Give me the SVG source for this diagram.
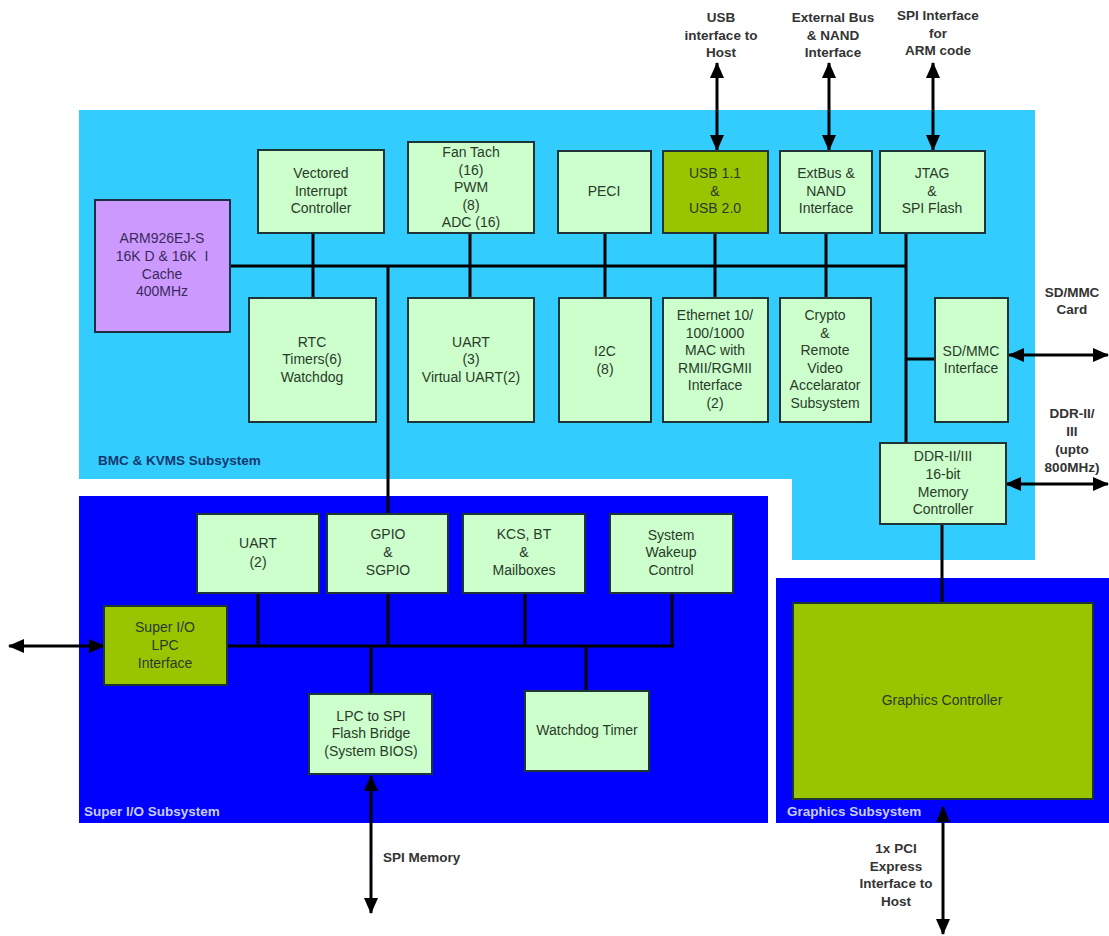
<svg xmlns="http://www.w3.org/2000/svg" width="1109" height="936" viewBox="0 0 1109 936">
<defs>
<marker id="ah" viewBox="0 0 16 14" markerWidth="16" markerHeight="14" refX="15" refY="7" orient="auto-start-reverse" markerUnits="userSpaceOnUse">
<path d="M0,0 L16,7 L0,14 z" fill="#000"/>
</marker>
<style>
.box{fill:#ccffcc;stroke:#1d3535;stroke-width:2}
.lime{fill:#99c400;stroke:#1d3535;stroke-width:2}
.arm{fill:#cc99ff;stroke:#1d2f45;stroke-width:2}
.t{font-family:"Liberation Sans",Arial,sans-serif;font-size:14px;fill:#2a3a2a;text-anchor:middle}
.tp{fill:#3a2a5a}
.lab{font-family:"Liberation Sans",Arial,sans-serif;font-size:13.5px;font-weight:bold;fill:#333;text-anchor:middle}
.st{text-anchor:start}
.sub{font-family:"Liberation Sans",Arial,sans-serif;font-size:13.5px;font-weight:bold}
.w{stroke:#000;stroke-width:3;fill:none}
.a{stroke:#000;stroke-width:3;fill:none;marker-start:url(#ah);marker-end:url(#ah)}
</style>
</defs>
<rect width="1109" height="936" fill="#fff"/>

<g id="bmc-subsystem">
<path d="M79,110 H1035 V560 H792 V479 H79 Z" fill="#33ccff"/>
<text class="sub" x="98" y="465" fill="#14386e">BMC &amp; KVMS Subsystem</text>
</g>
<g id="superio-subsystem">
<rect x="79" y="496" width="689" height="327" fill="#0000ff"/>
<text class="sub" x="84" y="816" fill="#c8ccff">Super I/O Subsystem</text>
</g>
<g id="graphics-subsystem">
<rect x="776" y="578" width="333" height="245" fill="#0000ff"/>
<text class="sub" x="787" y="816" fill="#c8ccff">Graphics Subsystem</text>
</g>

<g id="connectors">
<line class="w" x1="230" y1="266" x2="907" y2="266"/>
<line class="w" x1="313" y1="233" x2="313" y2="298"/>
<line class="w" x1="470" y1="233" x2="470" y2="298"/>
<line class="w" x1="605" y1="233" x2="605" y2="298"/>
<line class="w" x1="715" y1="233" x2="715" y2="298"/>
<line class="w" x1="826" y1="233" x2="826" y2="298"/>
<line class="w" x1="906" y1="233" x2="906" y2="443"/>
<line class="w" x1="906" y1="359" x2="935" y2="359"/>
<line class="w" x1="388" y1="266" x2="388" y2="514"/>
<line class="w" x1="942" y1="524" x2="942" y2="603"/>
<line class="w" x1="227" y1="646" x2="674" y2="646"/>
<line class="w" x1="258" y1="593" x2="258" y2="646"/>
<line class="w" x1="388" y1="593" x2="388" y2="646"/>
<line class="w" x1="525" y1="593" x2="525" y2="646"/>
<line class="w" x1="672" y1="593" x2="672" y2="646"/>
<line class="w" x1="371" y1="646" x2="371" y2="694"/>
<line class="w" x1="586" y1="646" x2="586" y2="691"/>
<line class="a" x1="717" y1="63" x2="717" y2="150"/>
<line class="a" x1="829" y1="63" x2="829" y2="150"/>
<line class="a" x1="933" y1="63" x2="933" y2="150"/>
<line class="a" x1="1009" y1="355" x2="1108" y2="355"/>
<line class="a" x1="1006" y1="484" x2="1108" y2="484"/>
<line class="a" x1="9" y1="646" x2="104" y2="646"/>
<line class="a" x1="371" y1="776" x2="371" y2="913"/>
<line class="a" x1="943" y1="807" x2="943" y2="934"/>
</g>

<g id="ext-labels">
<text class="lab" x="721" y="22">USB</text>
<text class="lab" x="721" y="40">interface to</text>
<text class="lab" x="721" y="57">Host</text>
<text class="lab" x="833" y="22">External Bus</text>
<text class="lab" x="833" y="40">&amp; NAND</text>
<text class="lab" x="833" y="57">Interface</text>
<text class="lab" x="938" y="20">SPI Interface</text>
<text class="lab" x="938" y="38">for</text>
<text class="lab" x="938" y="55">ARM code</text>
<text class="lab" x="1072" y="297">SD/MMC</text>
<text class="lab" x="1072" y="314">Card</text>
<text class="lab" x="1072" y="418">DDR-II/</text>
<text class="lab" x="1072" y="436">III</text>
<text class="lab" x="1072" y="454">(upto</text>
<text class="lab" x="1072" y="472">800MHz)</text>
<text class="lab st" x="383" y="862">SPI Memory</text>
<text class="lab" x="896" y="853">1x PCI</text>
<text class="lab" x="896" y="871">Express</text>
<text class="lab" x="896" y="888">Interface to</text>
<text class="lab" x="896" y="906">Host</text>
</g>

<g id="arm">
<rect class="arm" x="95" y="200" width="135" height="132"/>
<text class="t tp" x="162" y="243">ARM926EJ-S</text>
<text class="t tp" x="162" y="261" style="white-space:pre">16K D &amp; 16K  I</text>
<text class="t tp" x="162" y="279">Cache</text>
<text class="t tp" x="162" y="296">400MHz</text>
</g>
<g id="vic">
<rect class="box" x="258" y="150" width="126" height="83"/>
<text class="t" x="321" y="178">Vectored</text>
<text class="t" x="321" y="196">Interrupt</text>
<text class="t" x="321" y="213">Controller</text>
</g>
<g id="fantach">
<rect class="box" x="408" y="142" width="126" height="91"/>
<text class="t" x="471" y="157">Fan Tach</text>
<text class="t" x="471" y="175">(16)</text>
<text class="t" x="471" y="192">PWM</text>
<text class="t" x="471" y="210">(8)</text>
<text class="t" x="471" y="227">ADC (16)</text>
</g>
<g id="peci">
<rect class="box" x="558" y="151" width="93" height="82"/>
<text class="t" x="604" y="196">PECI</text>
</g>
<g id="usb">
<rect class="lime" x="663" y="151" width="105" height="82"/>
<text class="t" x="715" y="178">USB 1.1</text>
<text class="t" x="715" y="196">&amp;</text>
<text class="t" x="715" y="213">USB 2.0</text>
</g>
<g id="extbus">
<rect class="box" x="780" y="151" width="92" height="82"/>
<text class="t" x="826" y="178">ExtBus &amp;</text>
<text class="t" x="826" y="196">NAND</text>
<text class="t" x="826" y="213">Interface</text>
</g>
<g id="jtag">
<rect class="box" x="880" y="151" width="105" height="82"/>
<text class="t" x="932" y="178">JTAG</text>
<text class="t" x="932" y="196">&amp;</text>
<text class="t" x="932" y="213">SPI Flash</text>
</g>
<g id="rtc">
<rect class="box" x="249" y="298" width="127" height="124"/>
<text class="t" x="312" y="347">RTC</text>
<text class="t" x="312" y="364">Timers(6)</text>
<text class="t" x="312" y="382">Watchdog</text>
</g>
<g id="uart3">
<rect class="box" x="408" y="298" width="126" height="124"/>
<text class="t" x="471" y="347">UART</text>
<text class="t" x="471" y="364">(3)</text>
<text class="t" x="471" y="382">Virtual UART(2)</text>
</g>
<g id="i2c">
<rect class="box" x="559" y="298" width="92" height="124"/>
<text class="t" x="605" y="356">I2C</text>
<text class="t" x="605" y="374">(8)</text>
</g>
<g id="ethernet">
<rect class="box" x="663" y="298" width="105" height="124"/>
<text class="t" x="715" y="320">Ethernet 10/</text>
<text class="t" x="715" y="338">100/1000</text>
<text class="t" x="715" y="355">MAC with</text>
<text class="t" x="715" y="373">RMII/RGMII</text>
<text class="t" x="715" y="390">Interface</text>
<text class="t" x="715" y="408">(2)</text>
</g>
<g id="crypto">
<rect class="box" x="780" y="298" width="91" height="124"/>
<text class="t" x="825" y="320">Crypto</text>
<text class="t" x="825" y="338">&amp;</text>
<text class="t" x="825" y="355">Remote</text>
<text class="t" x="825" y="373">Video</text>
<text class="t" x="825" y="390">Accelarator</text>
<text class="t" x="825" y="408">Subsystem</text>
</g>
<g id="sdmmc">
<rect class="box" x="935" y="298" width="73" height="124"/>
<text class="t" x="971" y="356">SD/MMC</text>
<text class="t" x="971" y="373">Interface</text>
</g>
<g id="ddr">
<rect class="box" x="880" y="443" width="126" height="81"/>
<text class="t" x="943" y="461">DDR-II/III</text>
<text class="t" x="943" y="479">16-bit</text>
<text class="t" x="943" y="497">Memory</text>
<text class="t" x="943" y="514">Controller</text>
</g>
<g id="uart2">
<rect class="box" x="197" y="514" width="122" height="79"/>
<text class="t" x="258" y="548">UART</text>
<text class="t" x="258" y="567">(2)</text>
</g>
<g id="gpio">
<rect class="box" x="327" y="514" width="121" height="79"/>
<text class="t" x="388" y="539">GPIO</text>
<text class="t" x="388" y="557">&amp;</text>
<text class="t" x="388" y="575">SGPIO</text>
</g>
<g id="kcs">
<rect class="box" x="463" y="514" width="122" height="79"/>
<text class="t" x="524" y="539">KCS, BT</text>
<text class="t" x="524" y="557">&amp;</text>
<text class="t" x="524" y="575">Mailboxes</text>
</g>
<g id="wakeup">
<rect class="box" x="610" y="514" width="123" height="79"/>
<text class="t" x="671" y="540">System</text>
<text class="t" x="671" y="557">Wakeup</text>
<text class="t" x="671" y="575">Control</text>
</g>
<g id="lpc">
<rect class="lime" x="104" y="606" width="123" height="79"/>
<text class="t" x="165" y="632">Super I/O</text>
<text class="t" x="165" y="650">LPC</text>
<text class="t" x="165" y="668">Interface</text>
</g>
<g id="lpc-spi">
<rect class="box" x="309" y="694" width="123" height="80"/>
<text class="t" x="371" y="721">LPC to SPI</text>
<text class="t" x="371" y="738">Flash Bridge</text>
<text class="t" x="371" y="756">(System BIOS)</text>
</g>
<g id="watchdog">
<rect class="box" x="525" y="691" width="124" height="80"/>
<text class="t" x="587" y="735">Watchdog Timer</text>
</g>
<g id="graphics">
<rect class="lime" x="793" y="603" width="300" height="196"/>
<text class="t" x="942" y="705">Graphics Controller</text>
</g>
</svg>
